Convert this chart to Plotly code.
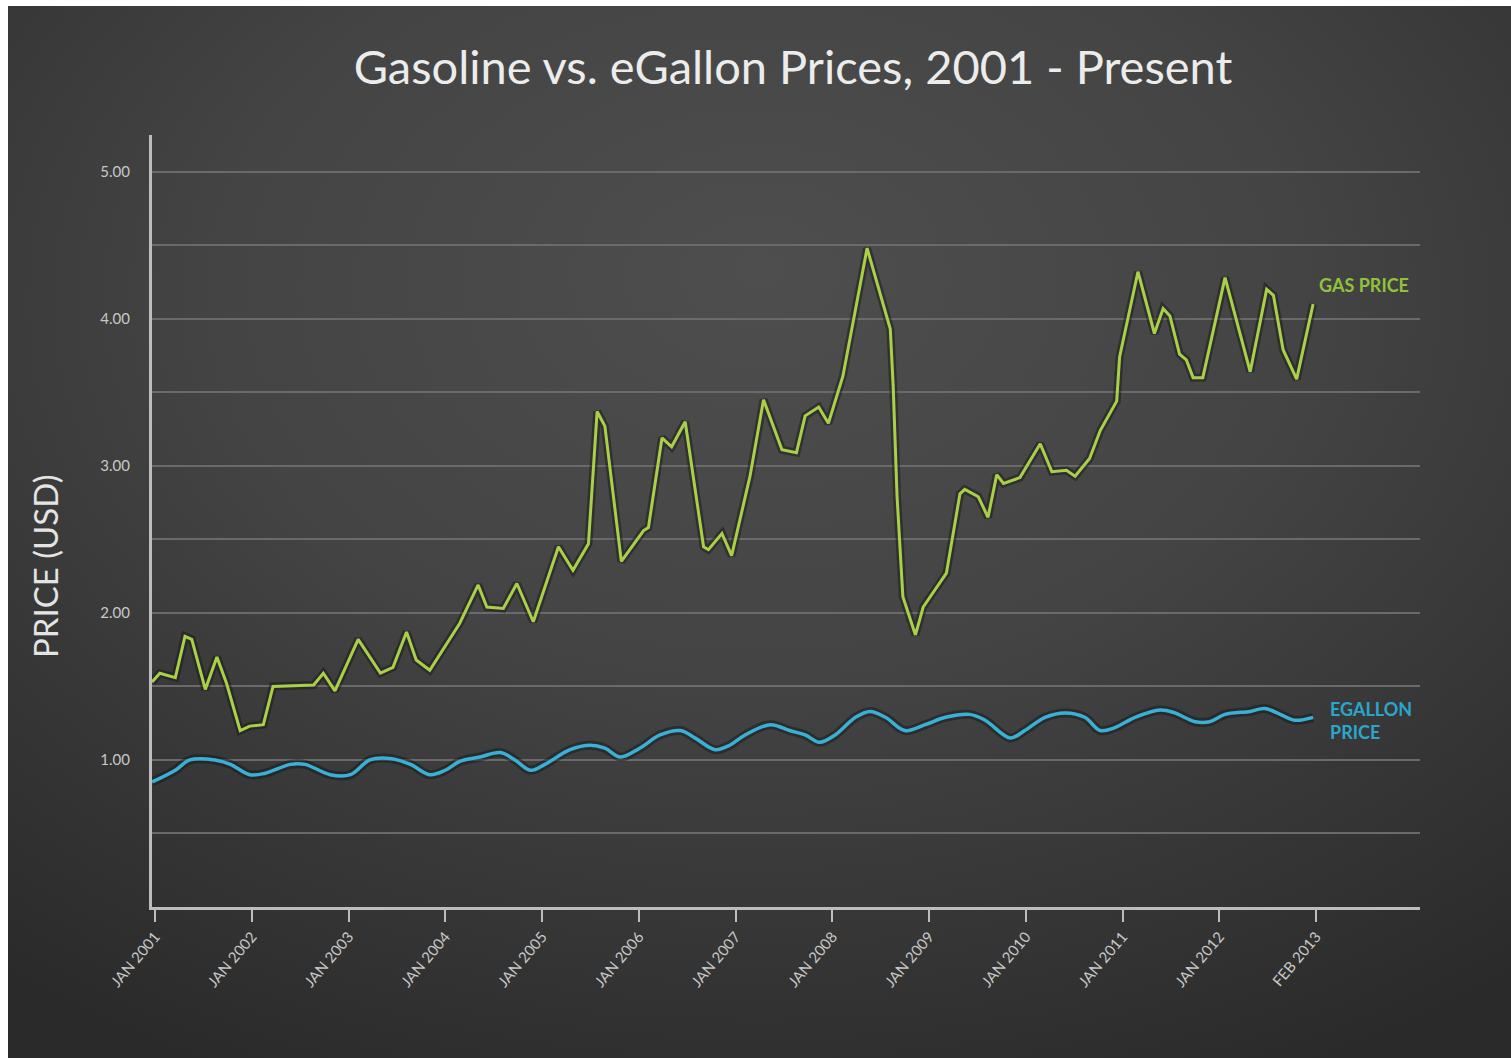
import base64
import plotly.graph_objects as go

# ---- data (decimal years, USD) ----
gas_years = [2000.97, 2001.05, 2001.21, 2001.31, 2001.38, 2001.52, 2001.64, 2001.74, 2001.88, 2001.98,
             2002.12, 2002.22, 2002.64, 2002.74, 2002.86, 2003.10, 2003.33, 2003.46, 2003.60, 2003.70,
             2003.84, 2004.05, 2004.15, 2004.34, 2004.43, 2004.60, 2004.74, 2004.91, 2005.17, 2005.32,
             2005.48, 2005.57, 2005.65, 2005.82, 2006.05, 2006.10, 2006.24, 2006.34, 2006.48, 2006.67,
             2006.72, 2006.86, 2006.96, 2007.15, 2007.29, 2007.48, 2007.63, 2007.72, 2007.86, 2007.96,
             2008.11, 2008.36, 2008.60, 2008.63, 2008.67, 2008.73, 2008.86, 2008.94, 2009.18, 2009.32,
             2009.37, 2009.51, 2009.61, 2009.70, 2009.77, 2009.94, 2010.15, 2010.27, 2010.42, 2010.51,
             2010.66, 2010.77, 2010.94, 2010.97, 2011.04, 2011.16, 2011.33, 2011.42, 2011.49, 2011.59,
             2011.66, 2011.73, 2011.83, 2012.06, 2012.32, 2012.49, 2012.56, 2012.66, 2012.80, 2012.97]
gas_price = [1.53, 1.59, 1.56, 1.84, 1.82, 1.48, 1.70, 1.52, 1.20, 1.23,
             1.24, 1.50, 1.51, 1.59, 1.47, 1.82, 1.59, 1.63, 1.87, 1.68,
             1.61, 1.83, 1.93, 2.19, 2.04, 2.03, 2.20, 1.94, 2.45, 2.29,
             2.47, 3.37, 3.27, 2.35, 2.56, 2.58, 3.19, 3.13, 3.30, 2.45,
             2.43, 2.54, 2.39, 2.93, 3.45, 3.11, 3.09, 3.34, 3.40, 3.29,
             3.61, 4.48, 3.93, 3.54, 2.79, 2.11, 1.85, 2.04, 2.27, 2.81,
             2.84, 2.79, 2.65, 2.94, 2.88, 2.92, 3.15, 2.96, 2.97, 2.93,
             3.05, 3.24, 3.44, 3.74, 3.96, 4.32, 3.90, 4.07, 4.02, 3.76,
             3.72, 3.60, 3.60, 4.28, 3.64, 4.20, 4.16, 3.79, 3.59, 4.10]

egallon_years = [2000.97, 2001.21, 2001.36, 2001.62, 2001.78, 2001.98, 2002.14, 2002.40, 2002.55, 2002.81,
                 2003.02, 2003.22, 2003.43, 2003.64, 2003.84, 2004.00, 2004.15, 2004.36, 2004.57, 2004.72,
                 2004.88, 2005.03, 2005.29, 2005.50, 2005.65, 2005.81, 2006.01, 2006.22, 2006.43, 2006.58,
                 2006.79, 2006.94, 2007.10, 2007.36, 2007.56, 2007.72, 2007.87, 2008.03, 2008.24, 2008.39,
                 2008.55, 2008.75, 2008.96, 2009.17, 2009.42, 2009.58, 2009.84, 2009.99, 2010.20, 2010.41,
                 2010.61, 2010.77, 2010.92, 2011.13, 2011.39, 2011.54, 2011.75, 2011.90, 2012.06, 2012.32,
                 2012.47, 2012.63, 2012.78, 2012.97]
egallon_price = [0.85, 0.93, 1.00, 1.00, 0.97, 0.90, 0.91, 0.97, 0.97, 0.90,
                 0.90, 1.00, 1.01, 0.97, 0.90, 0.93, 0.99, 1.02, 1.05, 1.00,
                 0.93, 0.97, 1.07, 1.10, 1.08, 1.02, 1.08, 1.17, 1.20, 1.15,
                 1.07, 1.10, 1.17, 1.24, 1.20, 1.17, 1.12, 1.17, 1.29, 1.33,
                 1.29, 1.20, 1.24, 1.29, 1.31, 1.27, 1.15, 1.20, 1.29, 1.32,
                 1.29, 1.20, 1.22, 1.29, 1.34, 1.32, 1.26, 1.26, 1.31, 1.33,
                 1.35, 1.31, 1.27, 1.29]

x_tick_vals = [2001, 2002, 2003, 2004, 2005, 2006, 2007, 2008, 2009, 2010, 2011, 2012, 2013]
x_tick_text = ["JAN 2001", "JAN 2002", "JAN 2003", "JAN 2004", "JAN 2005", "JAN 2006", "JAN 2007",
               "JAN 2008", "JAN 2009", "JAN 2010", "JAN 2011", "JAN 2012", "FEB 2013"]
y_tick_vals = [0.5, 1, 1.5, 2, 2.5, 3, 3.5, 4, 4.5, 5]
y_tick_text = ["", "1.00", "", "2.00", "", "3.00", "", "4.00", "", "5.00"]

GAS_COLOR = "#a9d048"
EG_COLOR = "#3ab0d6"

# ---- background gradient as svg ----
svg = """<svg xmlns='http://www.w3.org/2000/svg' width='1503' height='1052' viewBox='0 0 1503 1052' preserveAspectRatio='none'>
<defs><radialGradient id='g' cx='0.5' cy='0.3' r='0.8' fx='0.5' fy='0.25'>
<stop offset='0' stop-color='#4e4e4e'/>
<stop offset='0.45' stop-color='#444444'/>
<stop offset='1' stop-color='#2a2a2a'/>
</radialGradient></defs>
<rect width='1503' height='1052' fill='url(#g)'/></svg>"""
bg_uri = "data:image/svg+xml;base64," + base64.b64encode(svg.encode()).decode()

W, H = 1511, 1058
L, R, T, B = 152, 91, 135, 151
pw, ph = W - L - R, H - T - B

fig = go.Figure()

# shadows
fig.add_trace(go.Scatter(x=gas_years, y=gas_price, mode="lines",
                         line=dict(color="rgba(20,20,20,0.45)", width=8),
                         hoverinfo="skip", showlegend=False))
fig.add_trace(go.Scatter(x=egallon_years, y=egallon_price, mode="lines", line_shape="spline",
                         line=dict(color="rgba(20,20,20,0.45)", width=9),
                         hoverinfo="skip", showlegend=False))
fig.add_trace(go.Scatter(x=gas_years, y=gas_price, mode="lines", name="GAS PRICE",
                         line=dict(color=GAS_COLOR, width=3), showlegend=False))
fig.add_trace(go.Scatter(x=egallon_years, y=egallon_price, mode="lines", name="EGALLON PRICE",
                         line_shape="spline", line=dict(color=EG_COLOR, width=3.5), showlegend=False))

fig.add_layout_image(dict(
    source=bg_uri, xref="paper", yref="paper",
    x=(8 - L) / pw, y=1 + (T - 6) / ph,
    sizex=(W - 8) / pw, sizey=(H - 6) / ph,
    sizing="stretch", xanchor="left", yanchor="top", layer="below"))

fig.add_annotation(x=2013.5, y=4.23, text="<b>GAS PRICE</b>", showarrow=False,
                   font=dict(family="Lato", size=18, color="#8fc33a"), xanchor="center")
fig.add_annotation(x=2013.12, y=1.27, text="<b>EGALLON<br>PRICE</b>", showarrow=False, align="left",
                   font=dict(family="Lato", size=18, color="#2aa6cc"), xanchor="left")

# y-axis title placed as annotation to match position
fig.add_annotation(xref="paper", yref="paper", x=(45 - L) / pw, y=(907 - 566) / ph,
                   text="PRICE (USD)", textangle=-90, showarrow=False,
                   xanchor="center", yanchor="middle",
                   font=dict(family="Lato", size=33, color="#e4e4e4"))

fig.update_layout(
    width=W, height=H,
    paper_bgcolor="white", plot_bgcolor="rgba(0,0,0,0)",
    margin=dict(l=L, r=R, t=T, b=B, autoexpand=False),
    title=dict(text="Gasoline vs. eGallon Prices, 2001 - Present", x=793 / W, xanchor="center",
               y=1 - 68 / H, yanchor="middle",
               font=dict(family="Lato", size=47, color="#ececec")),
    font=dict(family="Lato"),
    xaxis=dict(range=[2000.969, 2014.075], tickvals=x_tick_vals, ticktext=x_tick_text,
               tickangle=-50, tickfont=dict(size=15, color="#c8c8c8"),
               showgrid=False, zeroline=False, showline=True, linecolor="#bdbdbd", linewidth=3,
               ticks="outside", ticklen=12, tickwidth=2, tickcolor="#bdbdbd"),
    yaxis=dict(range=[0, 5.25], tickvals=y_tick_vals, ticktext=y_tick_text,
               tickfont=dict(size=15, color="#c8c8c8"), ticklabelstandoff=16,
               showgrid=True, gridcolor="#6a6a6a", gridwidth=2, zeroline=False,
               showline=True, linecolor="#bdbdbd", linewidth=3),
)

fig.write_html("out.html")
